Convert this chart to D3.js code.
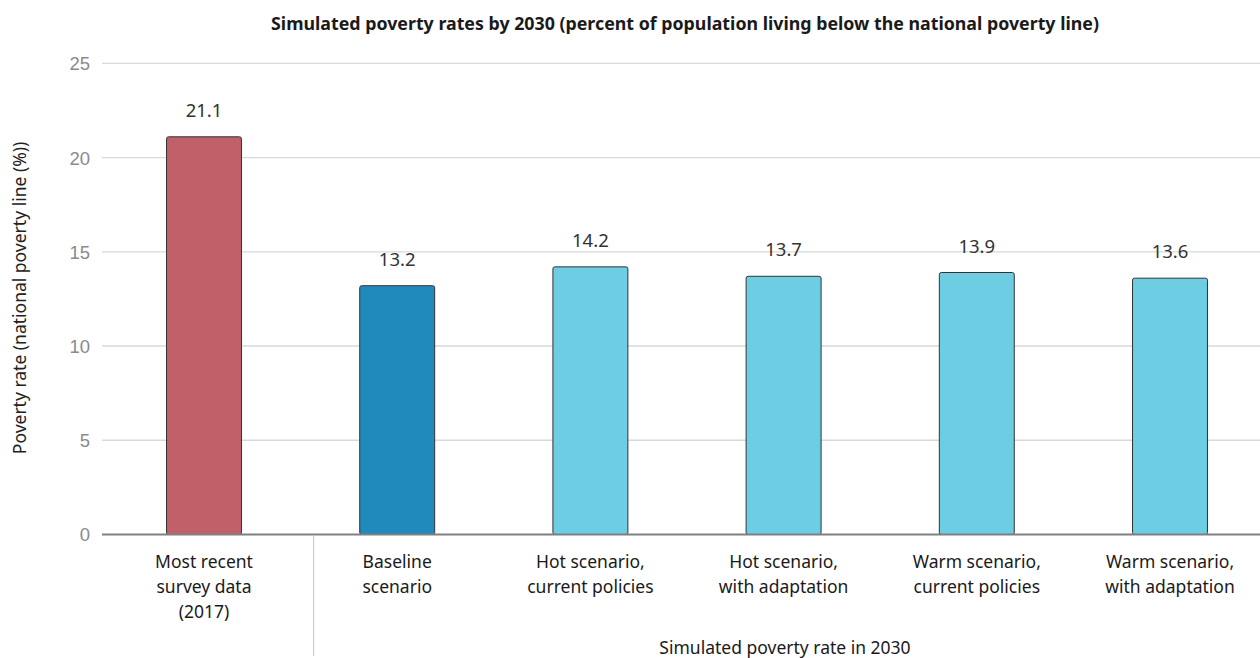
<!DOCTYPE html>
<html><head><meta charset="utf-8">
<script src="https://cdn.jsdelivr.net/npm/d3@7"></script>
<style>
body{margin:0;background:#fff;}
svg{display:block;font-family:"Liberation Sans Narrow","Arial Narrow","Noto Sans",sans-serif;}
</style></head>
<body><svg id="c" width="1260" height="658"></svg>
<script>
const categories = [
  ["Most recent","survey data","(2017)"],
  ["Baseline","scenario"],
  ["Hot scenario,","current policies"],
  ["Hot scenario,","with adaptation"],
  ["Warm scenario,","current policies"],
  ["Warm scenario,","with adaptation"]
];
const values = [21.1, 13.2, 14.2, 13.7, 13.9, 13.6];
const barColors = ["#c0616a", "#208abd", "#6dcde3", "#6dcde3", "#6dcde3", "#6dcde3"];
const yTicks = [0, 5, 10, 15, 20, 25];
const title = "Simulated poverty rates by 2030 (percent of population living below the national poverty line)";
const yTitle = "Poverty rate (national poverty line (%))";
const xTitle = "Simulated poverty rate in 2030";

const svg = d3.select("#c");
const x = d3.scaleBand().domain(d3.range(categories.length)).range([107.4, 1266.6]).paddingInner(0.612).paddingOuter(0.306);
const y = d3.scaleLinear().domain([0, 25]).range([534.5, 63.3]);

// title
svg.append("text").attr("x", 685).attr("y", 30).attr("text-anchor", "middle")
  .attr("font-size", 17.8).attr("font-weight", "bold").attr("fill", "#1a1a1a").text(title);

// gridlines
svg.append("g").selectAll("line").data(yTicks.filter(d => d > 0)).join("line")
  .attr("x1", 102).attr("x2", 1260).attr("y1", d => y(d)).attr("y2", d => y(d))
  .attr("stroke", "#d9d9d9").attr("stroke-width", 1.3);

// y axis labels
const yAxis = d3.axisLeft(y).tickValues(yTicks).tickSize(0).tickPadding(0);
const ya = svg.append("g").attr("transform", "translate(90,0)").call(yAxis);
ya.select(".domain").remove();
ya.selectAll("text").attr("font-size", 18.5).attr("fill", "#8a8a8a").attr("font-family", "inherit").attr("dy", "0.35em");

// y title
svg.append("text").attr("transform", "translate(26,298) rotate(-90)").attr("text-anchor", "middle")
  .attr("font-size", 17.5).attr("fill", "#222").text(yTitle);

// bars
svg.append("g").selectAll("rect").data(values).join("rect")
  .attr("x", (d, i) => x(i)).attr("width", x.bandwidth())
  .attr("y", d => y(d)).attr("height", d => y(0) - y(d))
  .attr("rx", 2).attr("fill", (d, i) => barColors[i])
  .attr("stroke", "#333").attr("stroke-width", 1);

// value labels
svg.append("g").selectAll("text").data(values).join("text")
  .attr("x", (d, i) => x(i) + x.bandwidth() / 2).attr("y", d => y(d) - 20)
  .attr("text-anchor", "middle").attr("font-size", 18.5).attr("fill", "#333")
  .text(d => d.toFixed(1));

// x axis line
svg.append("line").attr("x1", 102).attr("x2", 1260).attr("y1", y(0)).attr("y2", y(0))
  .attr("stroke", "#808080").attr("stroke-width", 2);

// separator
const sepX = x(1) - x.step() * x.paddingInner() / 2 + 13;
svg.append("line").attr("x1", sepX).attr("x2", sepX).attr("y1", y(0) + 1).attr("y2", 656)
  .attr("stroke", "#d0d0d0").attr("stroke-width", 1.3);

// category labels
const cg = svg.append("g").selectAll("text").data(categories).join("text")
  .attr("text-anchor", "middle").attr("font-size", 17.5).attr("fill", "#1a1a1a")
  .attr("transform", (d, i) => `translate(${x(i) + x.bandwidth() / 2},568)`);
cg.selectAll("tspan").data(d => d).join("tspan")
  .attr("x", 0).attr("y", (d, j) => j * 25).text(d => d);

// x title
svg.append("text").attr("x", 785).attr("y", 654).attr("text-anchor", "middle")
  .attr("font-size", 17.5).attr("fill", "#1a1a1a").text(xTitle);
</script></body></html>
